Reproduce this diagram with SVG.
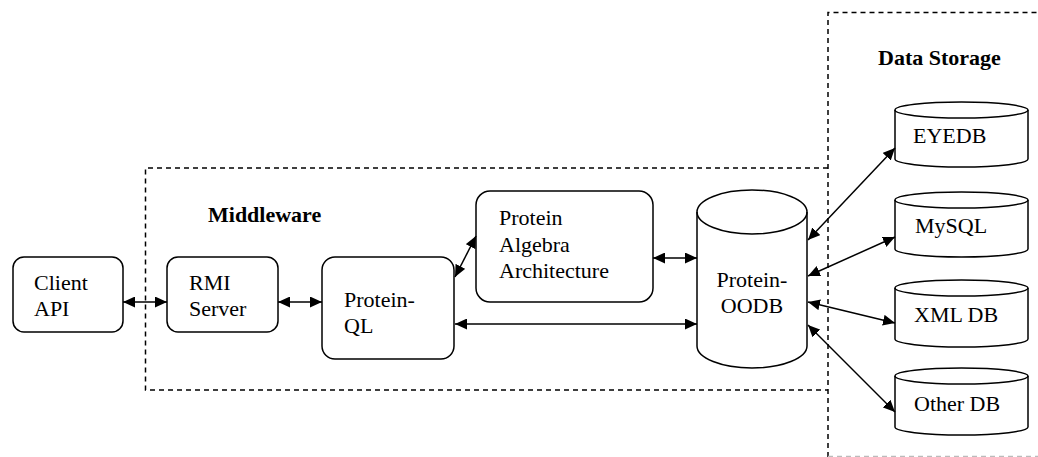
<svg xmlns="http://www.w3.org/2000/svg" width="1038" height="457" viewBox="0 0 1038 457">
<defs>
<marker id="ah" viewBox="0 0 12 11" refX="12" refY="5.5" markerWidth="12" markerHeight="11" markerUnits="userSpaceOnUse" orient="auto-start-reverse">
<path d="M0,0 L12,5.5 L0,11 Z" fill="#000"/>
</marker>
<style>
.box{fill:#fff;stroke:#000;stroke-width:1.5}
.dash{fill:none;stroke:#000;stroke-width:1.5;stroke-dasharray:5,4}
text{font-family:"Times New Roman","Liberation Serif",Tinos,serif;font-size:22px;fill:#000}
.b{font-weight:bold}
.c{fill:none;stroke:#000;stroke-width:1.5;marker-start:url(#ah);marker-end:url(#ah)}
</style>
</defs>
<rect width="1038" height="457" fill="#fff"/>
<g id="data-storage">
<path class="dash" d="M828,457 V12.5 H1040"/>
<path class="dash" style="stroke:#bbb" d="M828,456.5 H1040"/>
<text class="b" x="878" y="65">Data Storage</text>
</g>
<g id="middleware">
<path class="dash" d="M828,168 H145.5 V390 H828"/>
<text class="b" x="208" y="222">Middleware</text>
</g>
<g id="client-api">
<rect class="box" x="13" y="257" width="110" height="75" rx="11"/>
<text x="34" y="290">Client</text>
<text x="34" y="316">API</text>
</g>
<g id="rmi-server">
<rect class="box" x="167" y="257" width="111" height="75" rx="11"/>
<text x="189" y="290">RMI</text>
<text x="189" y="316">Server</text>
</g>
<g id="protein-ql">
<rect class="box" x="322" y="257" width="132" height="102" rx="13"/>
<text x="344" y="307">Protein-</text>
<text x="344" y="333">QL</text>
</g>
<g id="protein-algebra">
<rect class="box" x="476" y="191" width="177" height="111" rx="14"/>
<text x="499" y="225">Protein</text>
<text x="499" y="252">Algebra</text>
<text x="499" y="278">Architecture</text>
</g>
<g id="protein-oodb">
<path class="box" d="M697,212 A55,22 0 0 1 807,212 V346 A55,22 0 0 1 697,346 Z"/>
<path class="box" style="fill:none" d="M697,212 A55,22 0 0 0 807,212"/>
<text x="752" y="287" text-anchor="middle">Protein-</text>
<text x="752" y="313" text-anchor="middle">OODB</text>
</g>
<g id="eyedb">
<path class="box" d="M895,110 A66.5,8 0 0 1 1028,110 V159 A66.5,8 0 0 1 895,159 Z"/>
<path class="box" style="fill:none" d="M895,110 A66.5,8 0 0 0 1028,110"/>
<text x="913" y="143">EYEDB</text>
</g>
<g id="mysql">
<path class="box" d="M895,200 A66.5,8 0 0 1 1028,200 V249 A66.5,8 0 0 1 895,249 Z"/>
<path class="box" style="fill:none" d="M895,200 A66.5,8 0 0 0 1028,200"/>
<text x="915" y="233">MySQL</text>
</g>
<g id="xmldb">
<path class="box" d="M895,288 A66.5,8 0 0 1 1028,288 V339 A66.5,8 0 0 1 895,339 Z"/>
<path class="box" style="fill:none" d="M895,288 A66.5,8 0 0 0 1028,288"/>
<text x="914" y="322">XML DB</text>
</g>
<g id="otherdb">
<path class="box" d="M895,376 A66.5,8 0 0 1 1028,376 V427 A66.5,8 0 0 1 895,427 Z"/>
<path class="box" style="fill:none" d="M895,376 A66.5,8 0 0 0 1028,376"/>
<text x="914" y="411">Other DB</text>
</g>
<g id="connectors">
<line class="c" x1="123" y1="302" x2="167" y2="302"/>
<line class="c" x1="278" y1="302" x2="322" y2="302"/>
<line class="c" x1="455" y1="277" x2="476" y2="236"/>
<line class="c" x1="653" y1="258" x2="697" y2="258"/>
<line class="c" x1="455" y1="324" x2="697" y2="324"/>
<line class="c" x1="808" y1="240" x2="895" y2="148"/>
<line class="c" x1="808" y1="276" x2="895" y2="237"/>
<line class="c" x1="808" y1="302" x2="895" y2="323"/>
<line class="c" x1="808" y1="325" x2="895" y2="412"/>
</g>
</svg>
